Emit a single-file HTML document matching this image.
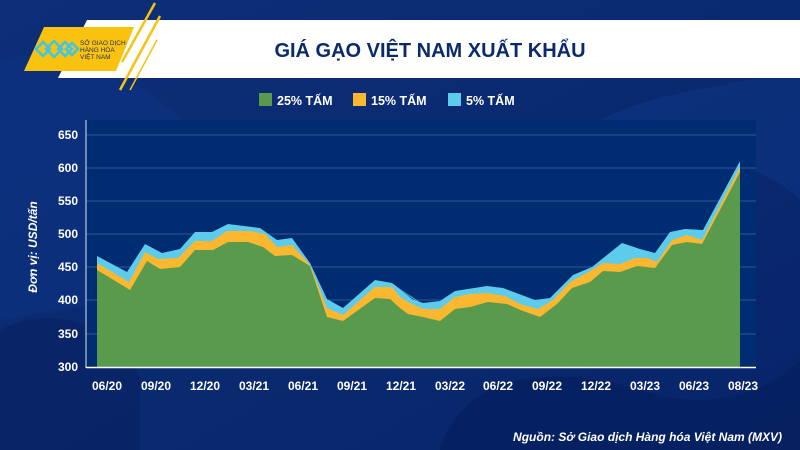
<!DOCTYPE html>
<html><head><meta charset="utf-8"><style>
html,body{margin:0;padding:0;width:800px;height:450px;overflow:hidden;background:#0a2a6e}
svg{display:block}
text{font-family:"Liberation Sans",sans-serif}
</style></head><body>
<svg width="800" height="450" viewBox="0 0 800 450" xmlns="http://www.w3.org/2000/svg">
<defs>
<linearGradient id="bg" x1="0" y1="0" x2="1" y2="1">
<stop offset="0" stop-color="#0d2f78"/><stop offset="0.5" stop-color="#0a2a70"/><stop offset="1" stop-color="#08246a"/>
</linearGradient>
</defs>
<rect width="800" height="450" fill="url(#bg)"/>
<path d="M0 60 C80 40 160 90 200 140 C240 200 200 260 120 300 L0 320 Z" fill="#0e3282" opacity="0.6"/>
<path d="M0 330 C60 300 120 330 140 380 L140 450 L0 450 Z" fill="#082260" opacity="0.6"/>
<path d="M440 450 C460 380 540 360 640 390 C700 410 760 400 800 360 L800 450 Z" fill="#061f5c" opacity="0.7"/>
<path d="M600 120 C680 80 760 90 800 60 L800 200 C760 160 680 150 600 120Z" fill="#0e3585" opacity="0.5"/>
<rect x="86" y="120" width="670" height="248" fill="#002c71"/>
<polygon points="87,20 800,20 800,78 58,78" fill="#ffffff"/>
<polygon points="44,27 134,27 116,71 24,71" fill="#f8c20e"/>
<line x1="155" y1="3" x2="122" y2="62" stroke="#f8c20e" stroke-width="2.5"/>
<line x1="160" y1="16" x2="120" y2="90" stroke="#f8c20e" stroke-width="2.5"/>
<line x1="157" y1="40" x2="130" y2="90" stroke="#f8c20e" stroke-width="1.5"/>
<g fill="none" stroke="#3ec6e6" stroke-width="2.5">
<path d="M36 49 l7 -7 l7 7 l-7 7 z"/><path d="M46 49 l8 -8 l8 8 l-8 8 z"/><path d="M58 49 l7 -7 l7 7 l-7 7 z"/><path d="M66 49 l6 -6 l6 6 l-6 6 z"/>
</g>
<text x="80" y="45" font-size="6.5" fill="#1f2f5f">SỞ GIAO DỊCH</text>
<text x="80" y="52" font-size="6.5" fill="#1f2f5f">HÀNG HÓA</text>
<text x="80" y="59" font-size="6.5" fill="#1f2f5f">VIỆT NAM</text>
<text x="430" y="57" font-size="20" font-weight="bold" fill="#0b2a6b" text-anchor="middle">GIÁ GẠO VIỆT NAM XUẤT KHẨU</text>
<rect x="259" y="93" width="13" height="13" fill="#5a9a4c"/>
<text x="277" y="105" font-size="12.5" font-weight="bold" fill="#fff">25% TẤM</text>
<rect x="353" y="93" width="13" height="13" fill="#fbb72f"/>
<text x="371" y="105" font-size="12.5" font-weight="bold" fill="#fff">15% TẤM</text>
<rect x="448" y="93" width="13" height="13" fill="#5ccbec"/>
<text x="466" y="105" font-size="12.5" font-weight="bold" fill="#fff">5% TẤM</text>
<g stroke="#34549a" stroke-width="1">
<line x1="86" y1="135" x2="756" y2="135"/><line x1="86" y1="168" x2="756" y2="168"/><line x1="86" y1="201" x2="756" y2="201"/><line x1="86" y1="234" x2="756" y2="234"/><line x1="86" y1="267" x2="756" y2="267"/><line x1="86" y1="300" x2="756" y2="300"/><line x1="86" y1="334" x2="756" y2="334"/>
</g>
<polygon fill="#5ccbec" points="97,367 97,256 127,272 145,244 162,253 180,249 195,232 212,232 228,224 260,228 277,240 292,238 310,263 327,299 343,308 375,280 392,283 412,298 420,302 400,289 412,299 423,303 440,301 455,291 487,286 503,288 535,300 550,298 573,275 592,267 622,243 640,249 655,253 670,232 685,229 703,230 740,161 740,367"/>
<polygon fill="#fbb72f" points="97,367 97,263 129,282 145,252 158,259 178,258 195,241 212,241 227,231 250,231 265,234 277,247 292,245 310,265 327,308 343,315 375,287 392,287 400,297 410,303 423,309 440,309 455,297 470,294 487,293 505,296 520,304 538,309 553,300 570,282 590,271 603,263 620,264 635,258 648,258 657,262 672,240 687,235 702,240 740,167 740,367"/>
<polygon fill="#5a9a4c" points="97,367 97,270 130,290 147,261 160,269 180,267 195,250 213,250 228,242 248,242 263,247 275,256 292,255 310,266 327,317 343,321 375,298 390,299 400,308 408,314 423,317 440,321 455,309 470,307 488,302 507,304 523,311 540,317 557,304 572,288 590,282 603,271 620,272 637,266 655,268 672,245 687,242 702,244 740,172 740,367"/>
<line x1="86" y1="120" x2="86" y2="368" stroke="#dfe6f3" stroke-width="1"/>
<line x1="86" y1="367.5" x2="756" y2="367.5" stroke="#ffffff" stroke-width="1.5"/>
<g font-size="12" font-weight="bold" fill="#fff" text-anchor="end">
<text x="78" y="139">650</text><text x="78" y="172">600</text><text x="78" y="205">550</text><text x="78" y="238">500</text><text x="78" y="271">450</text><text x="78" y="304">400</text><text x="78" y="338">350</text><text x="78" y="371">300</text>
</g>
<g font-size="12" font-weight="bold" fill="#fff" text-anchor="middle">
<text x="107" y="390">06/20</text><text x="156" y="390">09/20</text><text x="205" y="390">12/20</text><text x="254" y="390">03/21</text><text x="303" y="390">06/21</text><text x="352" y="390">09/21</text><text x="401" y="390">12/21</text><text x="450" y="390">03/22</text><text x="498" y="390">06/22</text><text x="547" y="390">09/22</text><text x="596" y="390">12/22</text><text x="645" y="390">03/23</text><text x="694" y="390">06/23</text><text x="743" y="390">08/23</text>
</g>
<text transform="translate(37,247) rotate(-90)" font-size="12" font-weight="bold" font-style="italic" fill="#fff" text-anchor="middle">Đơn vị: USD/tấn</text>
<text x="782" y="441" font-size="12" font-weight="bold" font-style="italic" fill="#fff" text-anchor="end">Nguồn: Sở Giao dịch Hàng hóa Việt Nam (MXV)</text>
</svg>
</body></html>
